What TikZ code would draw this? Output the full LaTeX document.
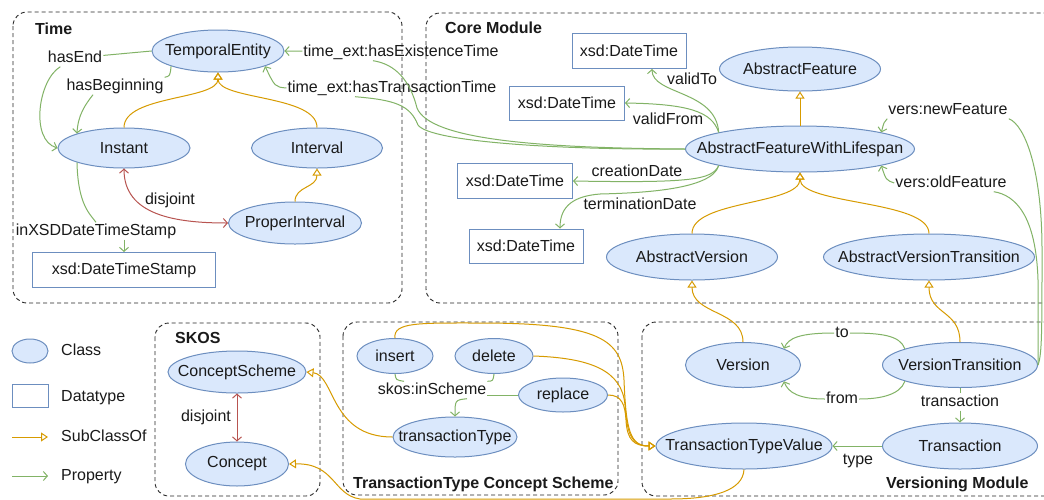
\documentclass[tikz,border=0pt]{standalone}
\usepackage{fontspec}
\setmainfont{Liberation Sans}
\usetikzlibrary{shapes.geometric,arrows.meta}
\definecolor{clsfill}{HTML}{DAE8FC}
\definecolor{clsline}{HTML}{6C8EBF}
\definecolor{subcol}{HTML}{D79B00}
\definecolor{propcol}{HTML}{82B366}
\definecolor{disjcol}{HTML}{B85450}
\definecolor{txtcol}{HTML}{1A1A1A}
\begin{document}
\begin{tikzpicture}[x=1pt, y=-1pt, font=\fontsize{16}{19}\selectfont, text=txtcol,
    cls/.style n args={3}{ellipse, draw=clsline, fill=clsfill, line width=1pt, inner sep=0pt, minimum width=#1pt, minimum height=#2pt, label=center:{#3}},
    dtype/.style 2 args={rectangle, draw=clsline, fill=white, line width=1pt, inner sep=0pt, minimum width=#1pt, minimum height=#2pt},
    lbl/.style={inner sep=1pt, text height=11.5pt, text depth=3.5pt},
    modtitle/.style={anchor=west, inner sep=0pt, font=\fontsize{16}{19}\selectfont\bfseries},
    module/.style={draw=black!85, line width=0.9pt, dash pattern=on 4pt off 3pt, rounded corners=14pt},
    subof/.style={draw=subcol, line width=1pt, -{Triangle[open, length=7pt, width=9pt]}},
    prop/.style={draw=propcol, line width=1pt, -{Straight Barb[length=4pt, width=9pt]}},
    propline/.style={draw=propcol, line width=1pt},
    disj/.style={draw=disjcol, line width=1pt, {Straight Barb[length=4pt, width=9pt]}-{Straight Barb[length=4pt, width=9pt]}}]
\useasboundingbox (0,0) rectangle (1044,499);
\fill[white] (0,0) rectangle (1044,499);
\clip (0,0) rectangle (1044,499);

\draw[module] (13,12) rectangle (402,303);
\draw[module] (426,13) rectangle (1058,303);
\draw[module] (155,323) rectangle (320,496);
\draw[module] (343,322) rectangle (618,495);
\draw[module] (642,322) rectangle (1058,496);
\node[modtitle] at (35,29) {Time};
\node[modtitle] at (445,28) {Core Module};
\node[modtitle] at (175,338) {SKOS};
\node[modtitle] at (353,484) {TransactionType Concept Scheme};
\node[modtitle] at (886,484) {Versioning Module};

\node[cls={132}{42}{TemporalEntity}] (te) at (218,51) {};
\node[cls={132}{40}{Instant}] (inst) at (124,148) {};
\node[cls={131}{40}{Interval}] (intv) at (317,148) {};
\node[cls={133}{42}{ProperInterval}] (pint) at (295,223) {};
\node[dtype={183}{35}] (dts) at (124,270) {xsd:DateTimeStamp};
\node[lbl] (lhasend) at (75,58) {hasEnd};
\node[lbl] (lhasbeg) at (115,86) {hasBeginning};
\node[lbl] (ldisja) at (170,200) {disjoint};
\node[lbl] (linxsd) at (96,231) {inXSDDateTimeStamp};
\node[lbl] (lexist) at (401,52) {time\_ext:hasExistenceTime};
\node[lbl] (ltrans) at (392,88) {time\_ext:hasTransactionTime};

\node[cls={161}{44}{AbstractFeature}] (af) at (800,69) {};
\node[cls={229}{46}{AbstractFeatureWithLifespan}] (afwl) at (800,149) {};
\node[cls={171}{46}{AbstractVersion}] (av) at (692,257) {};
\node[cls={211}{46}{AbstractVersionTransition}] (avt) at (929,257) {};
\node[dtype={114}{35}] (dta) at (629,51) {xsd:DateTime};
\node[dtype={115}{34}] (dtb) at (567,103) {xsd:DateTime};
\node[dtype={115}{35}] (dtc) at (515,181) {xsd:DateTime};
\node[dtype={114}{34}] (dtd) at (526,246) {xsd:DateTime};
\node[lbl] (lvto) at (692,80) {validTo};
\node[lbl] (lvfrom) at (668,120) {validFrom};
\node[lbl] (lcre) at (637,172) {creationDate};
\node[lbl] (lterm) at (640,205) {terminationDate};
\node[lbl] (lnew) at (948,110) {vers:newFeature};
\node[lbl] (lold) at (951,183) {vers:oldFeature};

\node[cls={36}{24}{}] (lgcls) at (30,351) {};
\node[lbl, anchor=west] at (60,351) {Class};
\node[dtype={36}{23}] (lgdt) at (30,396) {};
\node[lbl, anchor=west] at (60,397) {Datatype};
\coordinate (lgsa) at (12,437);
\coordinate (lgsb) at (48,437);
\node[lbl, anchor=west] at (60,437) {SubClassOf};
\coordinate (lgpa) at (12,476);
\coordinate (lgpb) at (48,476);
\node[lbl, anchor=west] at (60,476) {Property};

\node[cls={138}{42}{ConceptScheme}] (cs) at (237,372) {};
\node[cls={103}{44}{Concept}] (con) at (237,464) {};
\node[lbl] (ldisjb) at (206,417) {disjoint};

\node[cls={76}{35}{insert}] (ins) at (395,356) {};
\node[cls={78}{35}{delete}] (del) at (494,356) {};
\node[cls={89}{34}{replace}] (rep) at (563,395) {};
\node[cls={124}{40}{transactionType}] (ttype) at (455,437) {};
\node[lbl] (linsch) at (432,390) {skos:inScheme};

\node[cls={115}{45}{Version}] (ver) at (743,365) {};
\node[cls={155}{45}{VersionTransition}] (vt) at (960,365) {};
\node[cls={176}{46}{TransactionTypeValue}] (ttv) at (744,446) {};
\node[cls={155}{46}{Transaction}] (tra) at (960,446) {};
\node[lbl] (lto) at (842,333) {to};
\node[lbl] (lfrom) at (842,399) {from};
\node[lbl] (ltransac) at (960,402) {transaction};
\node[lbl] (ltype) at (858,460) {type};

\draw[propline] (te.west) -- (lhasend);
\draw[prop] (lhasend) .. controls (38,80) and (30,140) .. (inst.west);
\draw[propline] (te.198) .. controls (170,76) .. (lhasbeg.north east);
\draw[prop] ([xshift=-22pt]lhasbeg.south) .. controls (85,105) and (78,115) .. (inst.north west);
\draw[subof] (inst.north) .. controls (124,95) and (218,100) .. (te.south);
\draw[subof] (intv.north) .. controls (317,95) and (218,100) .. (te.south);
\draw[disj] (inst.south) .. controls (124,215) and (175,223) .. (pint.west);
\draw[subof] (pint.north) .. controls (295,186) and (317,188) .. (intv.south);
\draw[propline] (inst.south west) .. controls (78,205) and (90,214) .. (linxsd.north);
\draw[prop] (linxsd.south -| dts.north) -- (dts.north);
\draw[prop] (lexist) -- (te.east);
\draw[propline] (afwl.west) .. controls (540,148) and (430,140) .. (417,108) .. controls (410,80) and (395,64) .. ([xshift=-28pt]lexist.south);
\draw[prop] (ltrans.west) .. controls (275,87) .. (te.south east);
\draw[propline] (afwl.west) .. controls (560,150) and (430,142) .. (418,125) .. controls (410,105) and (395,100) .. ([xshift=-37pt]ltrans.south);

\draw[subof] (afwl.north) -- (af.south);
\draw[subof] (av.north) .. controls (692,200) and (800,205) .. (afwl.south);
\draw[subof] (avt.north) .. controls (929,200) and (800,205) .. (afwl.south);
\draw[prop] (afwl.north west) .. controls (716,90) and (652,95) .. ([xshift=23pt]dta.south);
\draw[prop] (afwl.north west) .. controls (712,112) and (690,104) .. (dtb.east);
\draw[prop] (afwl.south west) .. controls (712,180) and (690,183) .. (dtc.east);
\draw[prop] (afwl.south west) .. controls (712,190) and (640,193) .. (600,194) .. controls (575,196) and (560,205) .. ([xshift=34pt]dtd.north);
\draw[prop] (lnew.south west) .. controls (884,122) .. (afwl.north east);
\draw[propline] (vt.east) .. controls (1042,355) and (1042,330) .. (1042,250) .. controls (1042,170) and (1025,125) .. (lnew.south east);
\draw[prop] (lold.west) .. controls (886,180) .. (afwl.south east);
\draw[propline] (vt.east) .. controls (1038,340) .. (1038,280) .. controls (1036,215) and (1015,195) .. ([xshift=-14pt]lold.south east);

\draw[subof] (lgsa) -- (lgsb);
\draw[prop] (lgpa) -- (lgpb);

\draw[disj] (cs) -- (con);
\draw[subof] (ttype.west) .. controls (330,437) and (335,375) .. (cs.east);
\draw[subof] (ttv.south) .. controls (743,490) and (715,499) .. (670,499) -- (360,499) .. controls (333,495) and (335,463) .. (con.east);

\draw[propline] (ins.south) .. controls (396,380) .. ([xshift=-28pt]linsch.north);
\draw[propline] (del.south) .. controls (493,381) .. (linsch.north east);
\draw[propline] (rep.west) -- (rep.west -| linsch.east);
\draw[prop] ([xshift=35pt]linsch.south) .. controls (455,400) .. (ttype.north);
\draw[subof] (ins.north) .. controls (393,322) and (420,323) .. (480,323) .. controls (600,323) and (622,340) .. (624,380) .. controls (626,430) and (630,446) .. (ttv.west);
\draw[subof] (del.east) .. controls (590,358) and (622,370) .. (625,405) .. controls (627,435) and (632,446) .. (ttv.west);
\draw[subof] (rep.east) .. controls (622,395) and (625,405) .. (626,420) .. controls (627,440) and (634,446) .. (ttv.west);

\draw[propline] (vt.north west) .. controls (900,335) and (880,333) .. (lto);
\draw[prop] (lto) .. controls (800,333) and (788,338) .. (ver.north east);
\draw[propline] (vt.south west) .. controls (900,395) and (880,399) .. (lfrom);
\draw[prop] (lfrom) .. controls (800,399) and (788,393) .. (ver.south east);
\draw[propline] (vt.south) -- (ltransac);
\draw[prop] (ltransac) -- (tra.north);
\draw[prop] (tra.west) -- (ttv.east);
\draw[subof] (ver.north) .. controls (743,310) and (692,315) .. (av.south);
\draw[subof] (vt.north) .. controls (960,310) and (929,315) .. (avt.south);
\end{tikzpicture}
\end{document}
